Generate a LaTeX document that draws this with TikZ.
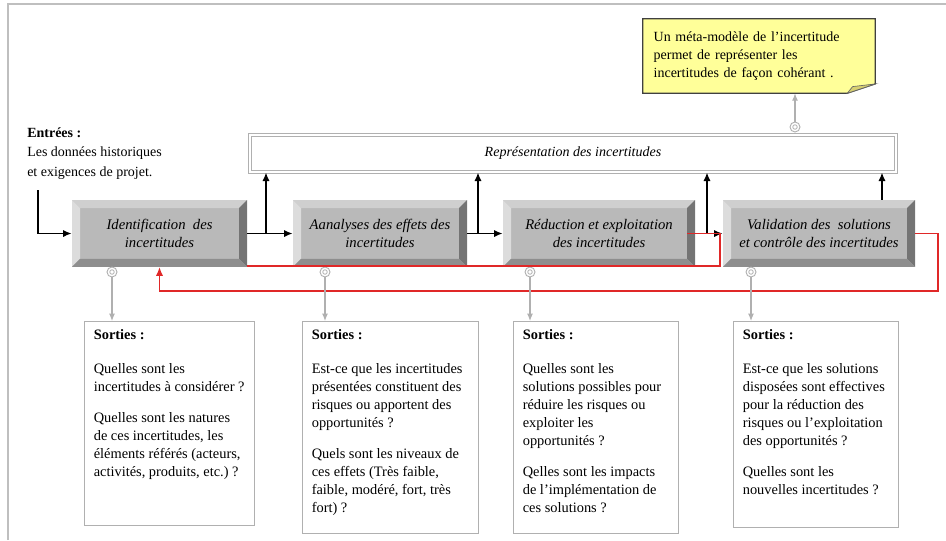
\documentclass[tikz,border=0pt]{standalone}
\usepackage{fontspec}
\setmainfont{Liberation Serif}
\usetikzlibrary{arrows.meta,backgrounds}

\definecolor{bevtop}{HTML}{CFCFCF}
\definecolor{bevleft}{HTML}{DCDCDC}
\definecolor{bevmid}{HTML}{B9B9B9}
\definecolor{bevbot}{HTML}{8E8E8E}
\definecolor{bevright}{HTML}{747474}
\definecolor{notefill}{HTML}{FFFF99}
\definecolor{notefold}{HTML}{D8D070}
\definecolor{fbred}{HTML}{E02828}
\definecolor{linegray}{HTML}{B0B0B0}

\tikzset{
  procbox/.style={minimum width=#1, minimum height=50pt, inner sep=0pt, fill=bevmid, align=center,
    font=\itshape\fontsize{11}{13.5}\selectfont,
    path picture={
      \coordinate (nw) at (path picture bounding box.north west);
      \coordinate (ne) at (path picture bounding box.north east);
      \coordinate (sw) at (path picture bounding box.south west);
      \coordinate (se) at (path picture bounding box.south east);
      \fill[bevtop] (nw) -- (ne) -- ([shift={(-6pt,-6pt)}]ne) -- ([shift={(6pt,-6pt)}]nw) -- cycle;
      \fill[bevleft] (nw) -- ([shift={(6pt,-6pt)}]nw) -- ([shift={(6pt,6pt)}]sw) -- (sw) -- cycle;
      \fill[bevright] (ne) -- (se) -- ([shift={(-6pt,6pt)}]se) -- ([shift={(-6pt,-6pt)}]ne) -- cycle;
      \fill[bevbot] (sw) -- (se) -- ([shift={(-6pt,6pt)}]se) -- ([shift={(6pt,6pt)}]sw) -- cycle;
    }},
  repbox/.style={draw=linegray, line width=0.6pt, double=white, double distance=1.8pt,
    minimum width=484.5pt, minimum height=27.75pt, font=\itshape\fontsize{10.5}{13}\selectfont},
  notebox/.style={text width=158pt, align=left, minimum height=55.5pt, inner xsep=8pt,
    font=\fontsize{10.5}{13.5}\selectfont},
  outbox/.style={draw=linegray, line width=0.7pt, anchor=north west, inner xsep=7pt, inner ysep=6pt,
    font=\fontsize{10.8}{13.5}\selectfont},
  port/.style={circle, draw=linegray, line width=0.7pt, minimum size=7.5pt, inner sep=0pt, fill=white,
    path picture={\draw[linegray, line width=0.6pt] (path picture bounding box.center) circle (1.7pt);}},
  flow/.style={-{Latex[length=6.5pt,width=5.5pt]}, line width=1.4pt, black},
  fb/.style={line width=1.1pt, fbred},
  outflow/.style={-{Latex[length=5.5pt,width=4.5pt]}, line width=0.9pt, linegray},
  frame/.style={draw=black!25, line width=1.1pt}
}

\begin{document}
\begin{tikzpicture}[x=0.75pt,y=-0.75pt]
  \useasboundingbox (0,0) rectangle (946,540);
  \draw[frame] (8,540) -- (8,4) -- (946,4);

  % inputs
  \node[anchor=north west, align=left, inner sep=0pt, font=\fontsize{10.5}{14.25}\selectfont] (entrees) at (27,128)
    {\textbf{Entrées :}\\Les données historiques\\et exigences de projet.};
  \coordinate (in) at (38,190);

  % process chain
  \node[procbox=131.25pt] (id) at (159.5,233.5) {Identification \ des\\incertitudes};
  \node[procbox=130.5pt] (an) at (380,233.5) {Aanalyses des effets des\\incertitudes};
  \node[procbox=144pt] (re) at (599,233.5) {Réduction et exploitation\\des incertitudes};
  \node[procbox=144pt] (va) at (819,233.5) {Validation des \ solutions\\et contrôle des incertitudes};

  % representation and meta-model note
  \node[repbox] (rep) at (573,153.5) {Représentation des incertitudes};
  \node[notebox] (note) at (759,56) {Un méta-modèle de l’incertitude\\permet de représenter les\\incertitudes de façon cohérant .};
  \begin{scope}[on background layer]
    \filldraw[draw=black!75, line width=0.8pt, fill=notefill] (note.north west) -- (note.north east)
      -- ([yshift=7pt]note.south east) -- ([xshift=-21pt]note.south east) -- (note.south west) -- cycle;
    \filldraw[draw=black!60, line width=0.5pt, fill=notefold] ([yshift=7pt]note.south east)
      -- ([xshift=-21pt]note.south east) -- ([shift={(-17pt,5pt)}]note.south east) -- cycle;
  \end{scope}

  % ports
  \node[port] (p1) at (112,272) {};
  \node[port] (p2) at (325,272) {};
  \node[port] (p3) at (530,272) {};
  \node[port] (p4) at (751,272) {};
  \node[port] (pn) at (795,127) {};

  % outputs
  \node[outbox] (oa) at (84,321) {\parbox[t][141pt][t]{113.5pt}{\raggedright
    \textbf{Sorties :}\\[12pt]
    Quelles sont les\\incertitudes à considérer~?\\[10pt]
    Quelles sont les natures\\de ces incertitudes, les\\éléments référés (acteurs,\\activités, produits, etc.)~?}};
  \node[outbox] (ob) at (302,321) {\parbox[t][147pt][t]{118pt}{\raggedright
    \textbf{Sorties :}\\[12pt]
    Est-ce que les incertitudes\\présentées constituent des\\risques ou apportent des\\opportunités~?\\[10pt]
    Quels sont les niveaux de\\ces effets (Très faible,\\faible, modéré, fort, très\\fort)~?}};
  \node[outbox] (oc) at (513,321) {\parbox[t][147pt][t]{109.75pt}{\raggedright
    \textbf{Sorties :}\\[12pt]
    Quelles sont les\\solutions possibles pour\\réduire les risques ou\\exploiter les\\opportunités~?\\[10pt]
    Qelles sont les impacts\\de l’implémentation de\\ces solutions~?}};
  \node[outbox] (od) at (733,321) {\parbox[t][142.5pt][t]{109.75pt}{\raggedright
    \textbf{Sorties :}\\[12pt]
    Est-ce que les solutions\\disposées sont effectives\\pour la réduction des\\risques ou l’exploitation\\des opportunités~?\\[10pt]
    Quelles sont les\\nouvelles incertitudes~?}};

  % main flow
  \coordinate (b1) at (266,233.5);
  \coordinate (b2) at (478,233.5);
  \coordinate (b3) at (707,233.5);
  \coordinate (b4) at (882,233.5);
  \draw[flow] (in) |- (id.west);
  \draw[flow] (id.east) -- (an.west);
  \draw[flow] (an.east) -- (re.west);
  \draw[flow] (re.east) -- (va.west);
  \draw[flow] (b1) -- (b1 |- rep.south);
  \draw[flow] (b2) -- (b2 |- rep.south);
  \draw[flow] (b3) -- (b3 |- rep.south);
  \draw[flow] (b4 |- va.north) -- (b4 |- rep.south);

  % feedback loops
  \coordinate (r1) at (720,266);
  \coordinate (r2) at (938,291);
  \draw[fb] ([xshift=-6pt]re.east) -| (r1) -- (r1 -| id.east);
  \draw[fb, -{Latex[length=6.5pt,width=5.5pt]}] (va.east) -| (r2) -| (id.south);

  % outputs links
  \draw[outflow] (p1) -- (p1 |- oa.north);
  \draw[outflow] (p2) -- (p2 |- ob.north);
  \draw[outflow] (p3) -- (p3 |- oc.north);
  \draw[outflow] (p4) -- (p4 |- od.north);
  \draw[outflow] (pn) -- (pn |- note.south);
\end{tikzpicture}
\end{document}
